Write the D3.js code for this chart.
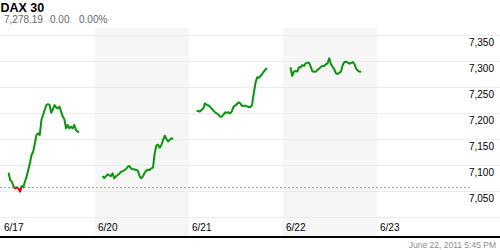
<!DOCTYPE html>
<html>
<head>
<meta charset="utf-8">
<script src="https://cdn.jsdelivr.net/npm/d3@7"></script>
<style>
  html, body { margin: 0; padding: 0; background: #fff; }
  svg { display: block; }
</style>
</head>
<body>
<script>
// 数据
const days = ['6/17', '6/20', '6/21', '6/22', '6/23']
const shadedDays = ['6/20', '6/22']
const gridValues = [7000, 7050, 7100, 7150, 7200, 7250, 7300, 7350]
const labelValues = [7050, 7100, 7150, 7200, 7250, 7300, 7350]
const prevClose = 7057
const title = 'DAX 30'
const quote = ['7,278.19', '0.00', '0.00%']
const stamp = 'June 22, 2011 5:45 PM'

// 每日走势 (交易时段内等间隔取值)
const jun17 = [7085.3, 7071.2, 7068.0, 7059.6, 7055.1, 7057.1, 7055.1, 7048.7, 7059.6, 7057.1,
  7068.0, 7077.6, 7090.4, 7103.2, 7119.2, 7125.6, 7141.7, 7157.7, 7160.9, 7157.7,
  7186.5, 7196.2, 7205.8, 7215.4, 7217.3, 7215.4, 7200.6, 7207.1, 7215.4, 7210.9,
  7209.0, 7212.2, 7202.6, 7193.0, 7187.8, 7170.5, 7176.9, 7170.5, 7173.7, 7170.5,
  7176.9, 7167.3, 7164.1, 7164.1]
const jun20 = [7078.8, 7075.0, 7078.2, 7082.0, 7080.1, 7078.8, 7083.9, 7074.4, 7078.2, 7080.8,
  7083.3, 7087.2, 7087.8, 7090.4, 7092.3, 7096.8, 7098.1, 7093.0, 7091.7, 7091.7,
  7090.4, 7089.1, 7078.8, 7074.4, 7078.2, 7084.6, 7089.1, 7091.0, 7090.4, 7093.6,
  7094.9, 7122.4, 7137.8, 7139.1, 7133.3, 7138.5, 7148.1, 7156.4, 7150.0, 7145.5,
  7148.7, 7151.3, 7150.0]
const jun21 = [7203.8, 7203.8, 7202.6, 7205.8, 7209.0, 7218.6, 7216.0, 7214.7, 7212.2, 7208.3,
  7204.5, 7201.3, 7199.4, 7196.8, 7193.0, 7193.0, 7196.8, 7201.3, 7200.6, 7201.3,
  7199.4, 7203.2, 7212.2, 7214.1, 7217.3, 7220.5, 7218.6, 7213.5, 7214.1, 7214.1,
  7212.8, 7211.5, 7211.5, 7215.4, 7237.8, 7257.0, 7268.6, 7267.9, 7271.1, 7275.0,
  7279.5, 7284.0, 7285.9]
const jun22 = [7287.8, 7271.2, 7279.5, 7280.8, 7279.5, 7287.8, 7287.8, 7292.3, 7290.4, 7295.5,
  7296.8, 7296.8, 7289.1, 7280.1, 7279.5, 7279.5, 7282.7, 7285.3, 7288.5, 7290.4,
  7290.4, 7293.6, 7295.5, 7305.2, 7294.2, 7289.1, 7284.0, 7276.3, 7275.0, 7277.6,
  7279.5, 7292.3, 7298.1, 7298.7, 7296.8, 7294.9, 7296.1, 7298.1, 7294.2, 7285.3,
  7281.4, 7279.5, 7279.5]
const series = [jun17, jun20, jun21, jun22]

const W = 500
const H = 250
const sessionOpen = 0.08   // 开盘在一天中的位置
const sessionClose = 0.832 // 收盘

const xScale = d3.scaleLinear()
  .domain([0, days.length])
  .range([1, 471])

const yScale = d3.scaleLinear()
  .domain([7000, 7350])
  .range([217, 35])

const svg = d3.select('body')
  .append('svg')
  .attr('width', W)
  .attr('height', H)

svg.append('rect')
  .attr('width', W)
  .attr('height', H)
  .attr('fill', '#fff')

// 周期背景
svg.selectAll('rect.band')
  .data(shadedDays)
  .enter()
  .append('rect')
  .attr('class', 'band')
  .attr('x', d => xScale(days.indexOf(d)))
  .attr('y', 28)
  .attr('width', d => xScale(days.indexOf(d) + 1) - xScale(days.indexOf(d)))
  .attr('height', 236 - 28)
  .attr('fill', '#f6f6f6')

// 网格线
const grid = svg.append('g')
  .attr('class', 'grid')
grid.call(
  d3.axisLeft(yScale)
    .tickValues(gridValues)
    .tickSize(-W)
    .tickFormat('')
)
grid.select('.domain').remove()
grid.selectAll('line')
  .attr('stroke', '#ebebeb')
  .attr('shape-rendering', 'crispEdges')

// 昨收
svg.append('line')
  .attr('x1', 0)
  .attr('x2', xScale(days.length))
  .attr('y1', Math.round(yScale(prevClose)) + 0.5)
  .attr('y2', Math.round(yScale(prevClose)) + 0.5)
  .attr('stroke', '#a0a0a0')
  .attr('stroke-width', 1)
  .attr('stroke-dasharray', '2,2')

// 红绿分割
const yPrev = yScale(prevClose)
const defs = svg.append('defs')
defs.append('clipPath')
  .attr('id', 'above')
  .append('rect')
  .attr('x', 0).attr('y', 0).attr('width', W).attr('height', yPrev)
defs.append('clipPath')
  .attr('id', 'below')
  .append('rect')
  .attr('x', 0).attr('y', yPrev).attr('width', W).attr('height', H - yPrev)

const line = d3.line()
  .x(d => xScale(d.day + sessionOpen + d.t * (sessionClose - sessionOpen)))
  .y(d => yScale(d.v))

const lineData = series.map((vals, day) => vals.map((v, i) => ({ day, t: i / (vals.length - 1), v })))

;[['above', '#0a960a'], ['below', '#d40000']].forEach(([clip, color]) => {
  svg.append('g')
    .attr('clip-path', `url(#${clip})`)
    .selectAll('path')
    .data(lineData)
    .enter()
    .append('path')
    .attr('d', line)
    .attr('fill', 'none')
    .attr('stroke', color)
    .attr('stroke-width', 2)
    .attr('stroke-linejoin', 'round')
})

// y轴标签
const yAxis = svg.append('g')
  .attr('transform', 'translate(494,0)')
yAxis.call(
  d3.axisLeft(yScale)
    .tickValues(labelValues)
    .tickSize(0)
    .tickPadding(0)
    .tickFormat(d3.format(','))
)
yAxis.select('.domain').remove()
yAxis.attr('font-family', '"Liberation Sans", Arial, sans-serif').attr('font-size', 10)
yAxis.selectAll('text')
  .attr('dy', 10)
  .attr('fill', '#000')

// x轴标签
const xAxis = svg.append('g')
  .attr('transform', 'translate(0,217)')
xAxis.call(
  d3.axisBottom(xScale)
    .tickValues(d3.range(days.length))
    .tickSize(0)
    .tickFormat(i => days[i])
)
xAxis.select('.domain').remove()
xAxis.attr('font-family', '"Liberation Sans", Arial, sans-serif').attr('font-size', 10)
xAxis.selectAll('text')
  .attr('text-anchor', 'start')
  .attr('x', 2.5)
  .attr('y', 14)
  .attr('dy', 0)
  .attr('fill', '#000')

// 底部黑线
svg.append('rect')
  .attr('x', 0)
  .attr('y', 236)
  .attr('width', W)
  .attr('height', 2)
  .attr('fill', '#000')

// 标题
svg.append('text')
  .attr('x', 0.5)
  .attr('y', 11.5)
  .attr('font-family', '"Liberation Sans", Arial, sans-serif')
  .attr('font-size', 12.5)
  .attr('font-weight', 'bold')
  .attr('fill', '#000')
  .text(title)

svg.selectAll('text.quote')
  .data(quote)
  .enter()
  .append('text')
  .attr('class', 'quote')
  .attr('x', (d, i) => [4, 50, 79][i])
  .attr('y', 23)
  .attr('font-family', '"Liberation Sans", Arial, sans-serif')
  .attr('font-size', 10)
  .attr('fill', '#666')
  .text(d => d)

svg.append('text')
  .attr('x', 496)
  .attr('y', 248)
  .attr('text-anchor', 'end')
  .attr('font-family', '"Liberation Sans", Arial, sans-serif')
  .attr('font-size', 8.5)
  .attr('fill', '#8c8c8c')
  .text(stamp)
</script>
</body>
</html>
